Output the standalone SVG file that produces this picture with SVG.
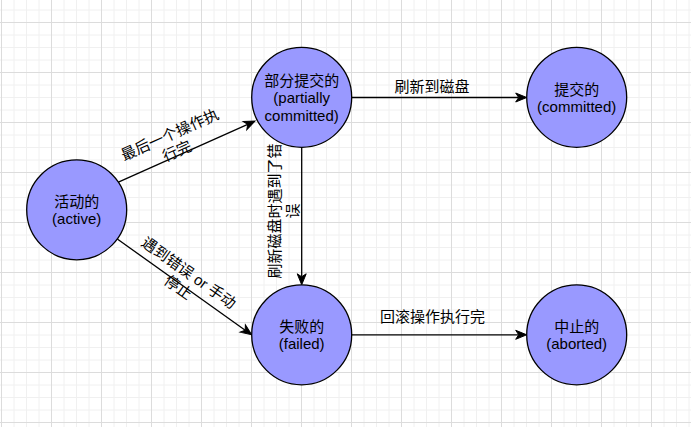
<svg xmlns="http://www.w3.org/2000/svg" width="691" height="427" viewBox="0 0 691 427">
<style>
.node circle{fill:#9999ff;stroke:#000;stroke-width:1.3}
text{font-family:"Liberation Sans","Noto Sans CJK SC",sans-serif;font-size:15px;fill:#000;text-anchor:middle}
.edge{stroke:#000;stroke-width:1.3;fill:none;marker-end:url(#arrow)}
</style>
<defs>
<pattern id="grid" patternUnits="userSpaceOnUse" x="1" y="22" width="50" height="50">
<path d="M13 0V50M25.5 0V50M38 0V50M0 13H50M0 25.5H50M0 38H50" stroke="#f0f0f0" stroke-width="1" fill="none"/>
<path d="M0.5 0V50M0 0.5H50" stroke="#dcdcdc" stroke-width="1" fill="none"/>
</pattern>
<marker id="arrow" markerUnits="userSpaceOnUse" markerWidth="12" markerHeight="10" viewBox="0 -5 12 10" refX="3" refY="0" orient="auto" overflow="visible">
<path d="M0,-4.5 L11,0 L0,4.5 L3,0 Z" fill="#000" stroke="#000" stroke-width="1"/>
</marker>
</defs>
<rect width="691" height="427" fill="#fff"/>
<rect width="691" height="427" fill="url(#grid)"/>
<g id="connectors">
<path class="edge" d="M118.4,182.2 L247.7,124.3"/>
<path class="edge" d="M351.7,97.5 L518.7,97.5"/>
<path class="edge" d="M301.7,147.3 L301.7,276.8"/>
<path class="edge" d="M117.3,239 L245.2,330.2"/>
<path class="edge" d="M351.7,334.8 L518.7,334.8"/>
<text x="432" y="92">刷新到磁盘</text>
<text x="432.5" y="321.5">回滚操作执行完</text>
<text transform="translate(173.3,142.5) rotate(-24.1)"><tspan x="0" y="-3.3">最后一个操作执</tspan><tspan x="0" y="14.7">行完</tspan></text>
<text transform="translate(183.8,279.8) rotate(35.4)"><tspan x="0" y="-3.3">遇到错误 or 手动</tspan><tspan x="0" y="14.7">停止</tspan></text>
<text transform="translate(283.3,211) rotate(-90)"><tspan x="0" y="-3.8">刷新磁盘时遇到了错</tspan><tspan x="0" y="15.2">误</tspan></text>
</g>
<g id="active" class="node">
<circle cx="76.7" cy="209.8" r="50"/>
<text x="76.7" y="207.3">活动的</text>
<text x="76.7" y="223.8">(active)</text>
</g>
<g id="partially-committed" class="node">
<circle cx="301.7" cy="97.3" r="50"/>
<text x="301.7" y="86.3">部分提交的</text>
<text x="301.7" y="103.3">(partially</text>
<text x="301.7" y="120.8">committed)</text>
</g>
<g id="committed" class="node">
<circle cx="576.7" cy="97.3" r="50"/>
<text x="576.7" y="94.8">提交的</text>
<text x="576.7" y="111.5">(committed)</text>
</g>
<g id="failed" class="node">
<circle cx="301.7" cy="334.8" r="50"/>
<text x="301.7" y="332.3">失败的</text>
<text x="301.7" y="349">(failed)</text>
</g>
<g id="aborted" class="node">
<circle cx="576.7" cy="334.8" r="50"/>
<text x="576.7" y="332.3">中止的</text>
<text x="576.7" y="349">(aborted)</text>
</g>
</svg>
